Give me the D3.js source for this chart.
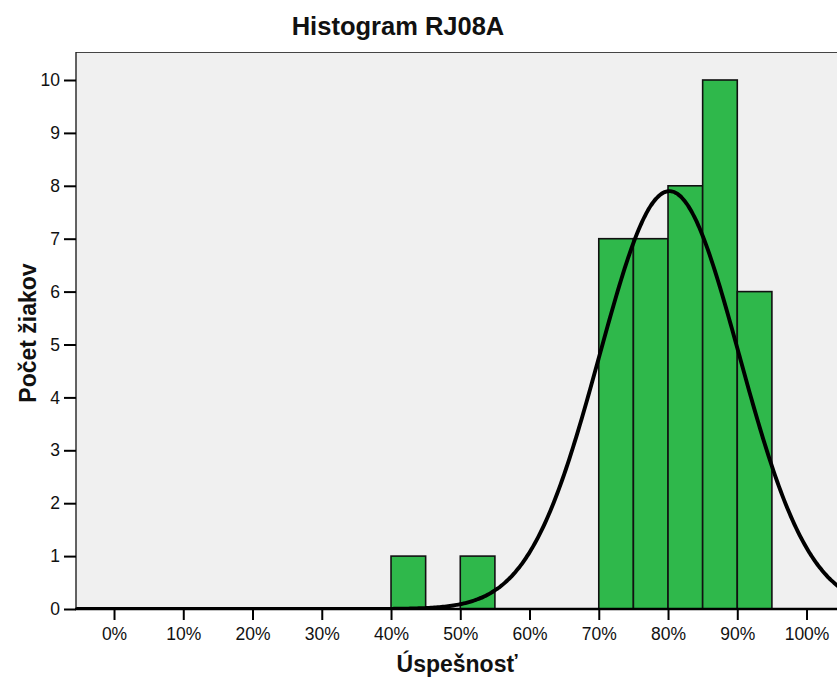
<!DOCTYPE html>
<html><head><meta charset="utf-8">
<script src="https://cdn.jsdelivr.net/npm/d3@7"></script>
<style>body{margin:0;background:#fff}svg{display:block}text{font-family:"Liberation Sans",Arial,sans-serif}</style>
</head><body>
<script>
const binStarts = [40, 50, 70, 75, 80, 85, 90];
const binWidth = 5;
const counts = [1, 1, 7, 7, 8, 10, 6];
const xTicks = [0, 10, 20, 30, 40, 50, 60, 70, 80, 90, 100];
const yTicks = [0, 1, 2, 3, 4, 5, 6, 7, 8, 9, 10];
const fitMean = 80.2, fitSd = 10.1, fitN = 40;

const W = 837, H = 679;
const svg = d3.select("body").append("svg").attr("width", W).attr("height", H);
const pL = 76, pR = 837, pT = 52, pB = 609;
const x = d3.scaleLinear().domain([-5.49, 104.4]).range([pL, pR]);
const y = d3.scaleLinear().domain([0, 10]).range([pB, 80]);

svg.append("defs").append("clipPath").attr("id", "clip")
  .append("rect").attr("x", pL).attr("y", pT).attr("width", pR - pL).attr("height", pB - pT);

svg.append("rect").attr("x", pL).attr("y", pT).attr("width", pR - pL).attr("height", pB - pT).attr("fill", "#f0f0f0");

const g = svg.append("g").attr("clip-path", "url(#clip)");
g.selectAll("rect.bar").data(binStarts).join("rect").attr("class", "bar")
  .attr("x", d => x(d)).attr("width", d => x(d + binWidth) - x(d))
  .attr("y", (d, i) => y(counts[i])).attr("height", (d, i) => y(0) - y(counts[i]))
  .attr("fill", "#2fb84b").attr("stroke", "#111").attr("stroke-width", 1.6);

const pts = d3.range(-6, 106, 0.25).map(v => [v, fitN * binWidth / (fitSd * Math.sqrt(2 * Math.PI)) * Math.exp(-((v - fitMean) ** 2) / (2 * fitSd * fitSd))]);
g.append("path").datum(pts).attr("fill", "none").attr("stroke", "#000").attr("stroke-width", 3.9)
  .attr("d", d3.line().x(d => x(d[0])).y(d => y(d[1])).curve(d3.curveBasis));

svg.append("line").attr("x1", pL).attr("x2", pR).attr("y1", pT + 0.5).attr("y2", pT + 0.5).attr("stroke", "#444").attr("stroke-width", 1);
svg.append("line").attr("x1", pL).attr("x2", pL).attr("y1", pT).attr("y2", pB).attr("stroke", "#222").attr("stroke-width", 1.4);

const ya = svg.append("g").attr("transform", `translate(${pL},0)`)
  .call(d3.axisLeft(y).tickValues(yTicks).tickSize(12).tickPadding(4).tickFormat(d3.format("d")));
ya.select(".domain").remove();
ya.selectAll(".tick line").attr("stroke", "#000").attr("stroke-width", 2);
ya.selectAll(".tick text").attr("font-size", 17.5).attr("fill", "#111").attr("font-family", "Liberation Sans, Arial, sans-serif");

const xa = svg.append("g").attr("transform", `translate(0,${pB})`)
  .call(d3.axisBottom(x).tickValues(xTicks).tickSize(11).tickPadding(8).tickFormat(d => d + "%"));
xa.select(".domain").remove();
xa.selectAll(".tick line").attr("stroke", "#000").attr("stroke-width", 2);
xa.selectAll(".tick text").attr("font-size", 17.5).attr("fill", "#111").attr("font-family", "Liberation Sans, Arial, sans-serif");
svg.append("line").attr("x1", pL - 1).attr("x2", pR).attr("y1", pB).attr("y2", pB).attr("stroke", "#000").attr("stroke-width", 2.5);

svg.append("text").attr("x", 398).attr("y", 35).attr("text-anchor", "middle").attr("font-size", 25.5).attr("font-weight", "bold").attr("fill", "#111").text("Histogram RJ08A");
svg.append("text").attr("x", 457).attr("y", 672).attr("text-anchor", "middle").attr("font-size", 23).attr("font-weight", "bold").attr("fill", "#111").text("Úspešnosť");
svg.append("text").attr("transform", "translate(36,333) rotate(-90)").attr("text-anchor", "middle").attr("font-size", 23).attr("font-weight", "bold").attr("fill", "#111").text("Počet žiakov");
</script>
</body></html>
